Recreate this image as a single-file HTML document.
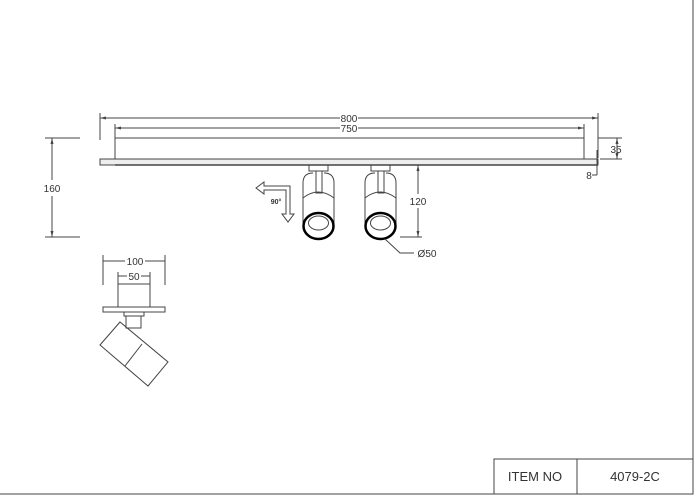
<!DOCTYPE html>
<html><head><meta charset="utf-8"><style>
html,body{margin:0;padding:0;background:#fff}
svg{display:block}
text{font-family:"Liberation Sans",sans-serif;fill:#333}
</style></head><body>
<svg width="700" height="500" viewBox="0 0 700 500" xmlns="http://www.w3.org/2000/svg">
<g stroke="#444" stroke-width="1" fill="none">
<line x1="693" y1="0" x2="693" y2="494"/>
<line x1="0" y1="494" x2="693" y2="494"/>
<rect x="494" y="459" width="199" height="35"/>
<line x1="577" y1="459" x2="577" y2="494"/>
<rect x="115" y="138" width="469" height="21"/>
<rect x="100" y="159" width="498" height="6" fill="#eee"/>
<line x1="115" y1="165" x2="598" y2="165" stroke-width="1.5"/>
<line x1="100" y1="113" x2="100" y2="140"/>
<line x1="598" y1="113" x2="598" y2="158"/>
<line x1="100" y1="118" x2="340" y2="118"/>
<line x1="358" y1="118" x2="598" y2="118"/>
<line x1="115" y1="124" x2="115" y2="138"/>
<line x1="584" y1="124" x2="584" y2="138"/>
<line x1="115" y1="128" x2="340" y2="128"/>
<line x1="358" y1="128" x2="584" y2="128"/>
<line x1="598" y1="138" x2="622" y2="138"/>
<line x1="600" y1="159" x2="622" y2="159"/>
<line x1="617" y1="138" x2="617" y2="159"/>
<line x1="597" y1="150" x2="597" y2="175"/>
<line x1="592" y1="175" x2="597" y2="175"/>
<line x1="45" y1="138" x2="80" y2="138"/>
<line x1="45" y1="237" x2="80" y2="237"/>
<line x1="52" y1="138" x2="52" y2="180"/>
<line x1="52" y1="196" x2="52" y2="237"/>
<rect x="309" y="165" width="19" height="6"/>
<rect x="316" y="171" width="6" height="22"/>
<path d="M303 226 V183 Q303 173 313 173 M324 173 Q334 173 334 183 V226"/>
<path d="M303 198 Q318 186 334 198"/>
<ellipse cx="318.5" cy="226" rx="15" ry="13" stroke="#000" stroke-width="2.5"/>
<ellipse cx="318.5" cy="223" rx="10" ry="7"/>
<rect x="371" y="165" width="19" height="6"/>
<rect x="378" y="171" width="6" height="22"/>
<path d="M365 226 V183 Q365 173 375 173 M386 173 Q396 173 396 183 V226"/>
<path d="M365 198 Q380 186 396 198"/>
<ellipse cx="380.5" cy="226" rx="15" ry="13" stroke="#000" stroke-width="2.5"/>
<ellipse cx="380.5" cy="223" rx="10" ry="7"/>
<line x1="400" y1="237" x2="422" y2="237"/>
<line x1="418" y1="165" x2="418" y2="194"/>
<line x1="418" y1="208" x2="418" y2="237"/>
<polyline points="385,239 400,253 414,253"/>
<path d="M256 188 L264 182 L264 186 L290 186 L290 214 L294 214 L288 222 L282 214 L286 214 L286 190 L264 190 L264 194 Z"/>
<line x1="103" y1="255" x2="103" y2="285"/>
<line x1="165" y1="255" x2="165" y2="285"/>
<line x1="103" y1="261" x2="125" y2="261"/>
<line x1="145" y1="261" x2="165" y2="261"/>
<line x1="118" y1="272" x2="118" y2="284"/>
<line x1="150" y1="272" x2="150" y2="284"/>
<line x1="118" y1="276" x2="127" y2="276"/>
<line x1="141" y1="276" x2="150" y2="276"/>
<rect x="118" y="284" width="32" height="23"/>
<rect x="103" y="307" width="62" height="5"/>
<rect x="124" y="312" width="20" height="4"/>
<rect x="126" y="316" width="15" height="12"/>
<polygon points="100,345 120,322 168,362 148,386"/>
<line x1="142" y1="344" x2="125" y2="366"/>
</g>
<g fill="#444">
<path d="M100 118 l6 -1.5 v3z M598 118 l-6 -1.5 v3z M115 128 l6 -1.5 v3z M584 128 l-6 -1.5 v3z"/>
<path d="M52 138 l-1.5 6 h3z M52 237 l-1.5 -6 h3z M418 165 l-1.5 6 h3z M418 237 l-1.5 -6 h3z"/>
<path d="M617 138 l-1.5 6 h3z M617 159 l-1.5 -6 h3z"/>
</g>
<g font-size="10" text-anchor="middle">
<text x="349" y="122">800</text>
<text x="349" y="132">750</text>
<text x="616" y="153">35</text>
<text x="589" y="179">8</text>
<text x="52" y="192">160</text>
<text x="418" y="205">120</text>
<text x="427" y="257">Ø50</text>
<text x="276" y="204" font-size="7" font-weight="bold">90°</text>
<text x="135" y="265">100</text>
<text x="134" y="280">50</text>
<text x="535" y="481" font-size="13">ITEM NO</text>
<text x="635" y="481" font-size="13">4079-2C</text>
</g>
</svg>
</body></html>
